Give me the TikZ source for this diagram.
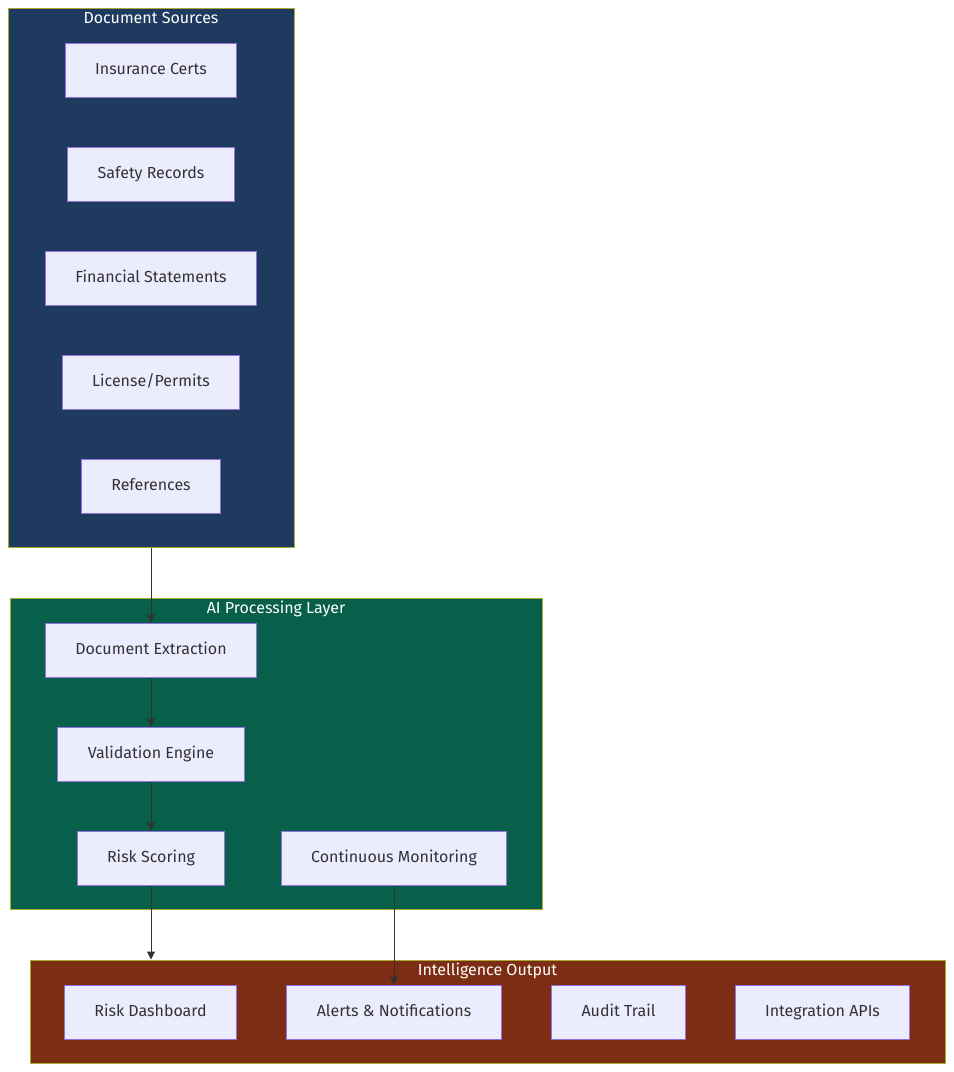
\documentclass[tikz,border=0pt]{standalone}
\usepackage{fontspec}
\setmainfont{Fira Sans}
\usepackage{tikz}
\usetikzlibrary{arrows.meta}
\definecolor{nodefill}{HTML}{ECECFF}
\definecolor{nodeline}{HTML}{9370DB}
\definecolor{ink}{HTML}{333333}
\definecolor{frame}{HTML}{AAAA33}
\definecolor{srcbg}{HTML}{1F3A5F}
\definecolor{aibg}{HTML}{085F4A}
\definecolor{outbg}{HTML}{7C2D14}
\tikzset{
  box/.style={draw=nodeline, fill=nodefill, line width=1pt, text=ink, minimum height=54pt, inner xsep=30pt, text height=11.5pt, text depth=3.5pt, font=\fontsize{16}{19}\selectfont},
  group/.style={draw=frame, line width=1pt, inner sep=0pt},
  title/.style={text=white, inner sep=0pt, text height=11.5pt, text depth=3.5pt, font=\fontsize{16}{19}\selectfont},
  flow/.style={draw=ink, line width=1pt, -{Triangle[length=8pt,width=8pt]}},
}

\begin{document}
\begin{tikzpicture}[x=1pt, y=-1pt]
  \useasboundingbox (0,0) rectangle (954,1072);
  % clusters
  \node[group, fill=srcbg, minimum width=286pt, minimum height=539pt] (sources) at (151,277.5) {};
  \node[title] (sourcestitle) at (151,19) {Document Sources};
  \node[group, fill=aibg, minimum width=532pt, minimum height=311pt] (ailayer) at (276,753.5) {};
  \node[title] (ailayertitle) at (276,609) {AI Processing Layer};
  \node[group, fill=outbg, minimum width=915pt, minimum height=103pt] (output) at (487.5,1011.5) {};
  \node[title] (outputtitle) at (487.5,971) {Intelligence Output};
  % document sources
  \node[box] (certs) at (151,70) {Insurance Certs};
  \node[box] (safety) at (151,174) {Safety Records};
  \node[box] (finance) at (151,278) {Financial Statements};
  \node[box] (permits) at (151,382) {License/Permits};
  \node[box] (refs) at (151,486) {References};
  % ai processing
  \node[box] (extract) at (151,650) {Document Extraction};
  \node[box] (validate) at (151,754) {Validation Engine};
  \node[box] (score) at (151,858) {Risk Scoring};
  \node[box] (monitor) at (394,858) {Continuous Monitoring};
  % outputs
  \node[box] (dashboard) at (150.5,1012) {Risk Dashboard};
  \node[box] (alerts) at (394,1012) {Alerts \& Notifications};
  \node[box] (audit) at (618.5,1012) {Audit Trail};
  \node[box] (apis) at (822.5,1012) {Integration APIs};
  % flows
  \draw[flow] (sources.south) -- (extract.north);
  \draw[flow] (extract) -- (validate);
  \draw[flow] (validate) -- (score);
  \draw[flow] (score.south) -- (score.south |- output.north);
  \draw[flow] (monitor) -- (alerts);
\end{tikzpicture}
\end{document}
